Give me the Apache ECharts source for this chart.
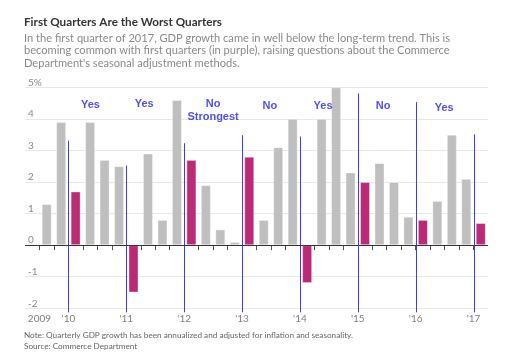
<!DOCTYPE html>
<html>
<head>
<meta charset="utf-8">
<script src="https://cdn.jsdelivr.net/npm/echarts@6/dist/echarts.min.js"></script>
<style>
html,body{margin:0;padding:0;background:#fff;}
#c{width:529px;height:360px;}
</style>
</head>
<body>
<div id="c"></div>
<script>
// Quarters from 2009 Q3 to 2017 Q1
const quarters = ['2009Q3','2009Q4','2010Q1','2010Q2','2010Q3','2010Q4','2011Q1','2011Q2','2011Q3','2011Q4',
  '2012Q1','2012Q2','2012Q3','2012Q4','2013Q1','2013Q2','2013Q3','2013Q4','2014Q1','2014Q2','2014Q3','2014Q4',
  '2015Q1','2015Q2','2015Q3','2015Q4','2016Q1','2016Q2','2016Q3','2016Q4','2017Q1'];
const gdpGrowth = [1.3,3.9,1.7,3.9,2.7,2.5,-1.5,2.9,0.8,4.6,2.7,1.9,0.5,0.1,2.8,0.8,3.1,4.0,-1.2,4.0,5.0,2.3,2.0,2.6,2.0,0.9,0.8,1.4,3.5,2.1,0.7];
const xTickPositions = [0,1,2,3,4,5,6,7,8,9,10,11,12,13,14,15,16,17,18,19,20,21,22,23,24,25,26,27,28,29,30];
const xLabelPositions = [0,2,6,10,14,18,22,26,30];
const xLabelTexts = ['2009',"'10","'11","'12","'13","'14","'15","'16","'17"];
// Year marker lines: quarter boundary index and top value
const yearLineX = [2,6,10,14,18,22,26,30];
const yearLineTop = [3.31,2.52,3.23,3.48,3.44,4.81,4.53,3.51];
// Annotations
const noteText = ['Yes','Yes','No','Strongest','No','Yes','No','Yes'];
const noteX = [3.52,7.24,12.0,12.0,15.92,19.6,23.75,27.97];
const noteY = [4.44,4.46,4.46,4.06,4.41,4.41,4.40,4.33];

const GRAY = '#bfbfbf', PURPLE = '#bb2a74', BLUE = '#3c3cff', TEXTBLUE = '#2323f2';
const FONT = 'Lato, "Open Sans", sans-serif';

const barData = gdpGrowth.map((v,i)=>({
  value:[i+0.5, v],
  itemStyle:{color: quarters[i].endsWith('Q1') ? PURPLE : GRAY}
}));

const chart = echarts.init(document.getElementById('c'), null, {renderer:'canvas'});
chart.setOption({
  animation:false,
  backgroundColor:'#fff',
  title:[{
    text:'First Quarters Are the Worst Quarters',
    left:24, top:16, padding:0,
    textStyle:{fontFamily:FONT, fontSize:11.7, fontWeight:'bold', color:'#333'}
  },{
    text:"In the first quarter of 2017, GDP growth came in well below the long-term trend. This is\nbecoming common with first quarters (in purple), raising questions about the Commerce\nDepartment's seasonal adjustment methods.",
    left:24, top:32, padding:0,
    textStyle:{fontFamily:FONT, fontSize:11.1, fontWeight:'normal', color:'#8a8a8a', lineHeight:12.6}
  },{
    text:'Note: Quarterly GDP growth has been annualized and adjusted for inflation and seasonality.\nSource: Commerce Department',
    left:24, top:329.5, padding:0,
    textStyle:{fontFamily:FONT, fontSize:8.2, fontWeight:'normal', color:'#666', lineHeight:11.5}
  }],
  grid:{left:25, right:41, top:87.3, bottom:51.7, containLabel:false},
  xAxis:{
    type:'value', min:-1, max:31, interval:1,
    axisLine:{show:false},
    axisTick:{show:true, length:5, lineStyle:{color:'#555'}, customValues:xTickPositions},
    splitLine:{show:false},
    axisLabel:{
      margin:5, fontFamily:FONT, fontSize:10, color:'#808080',
      customValues:xLabelPositions,
      formatter:(v)=> { const k = xLabelPositions.indexOf(Math.round(v)); return k>=0 ? xLabelTexts[k] : ''; }
    }
  },
  yAxis:{
    type:'value', min:-2, max:5, interval:1,
    axisLine:{show:false}, axisTick:{show:false},
    splitLine:{lineStyle:{color:'#e8e8e8', width:1}},
    axisLabel:{
      inside:true, margin:3, verticalAlign:'bottom', align:'left',
      fontFamily:FONT, fontSize:10, color:'#8a8a8a',
      formatter:(v)=> v===5 ? '5%' : String(v)
    }
  },
  series:[{
    type:'bar',
    data:barData,
    barWidth:10,
    itemStyle:{borderColor:'rgba(255,255,255,0.35)', borderWidth:1},
    markLine:{
      silent:true, symbol:'none', label:{show:false},
      lineStyle:{color:'#333', width:1, type:'solid'},
      data:[{yAxis:0}]
    },
    z:2
  },{
    type:'custom',
    z:3,
    data: yearLineX.map((x,i)=>[x, yearLineTop[i]]),
    renderItem:(params, api)=>{
      const top = api.coord([api.value(0), api.value(1)]);
      const bot = api.coord([api.value(0), -2]);
      const x = Math.round(top[0]) + 0.5;
      return {type:'line', shape:{x1:x, y1:top[1], x2:x, y2:bot[1]+4},
        style:{stroke:BLUE, lineWidth:1, opacity:1}};
    }
  },{
    type:'scatter',
    symbolSize:0,
    z:4,
    data: noteText.map((t,i)=>({value:[noteX[i], noteY[i]], name:t})),
    label:{
      show:true, position:'inside', formatter:(p)=>p.name,
      fontFamily:'"Liberation Sans", Arial, sans-serif', fontWeight:'bold', fontSize:11, color:TEXTBLUE
    }
  }]
});
</script>
</body>
</html>
